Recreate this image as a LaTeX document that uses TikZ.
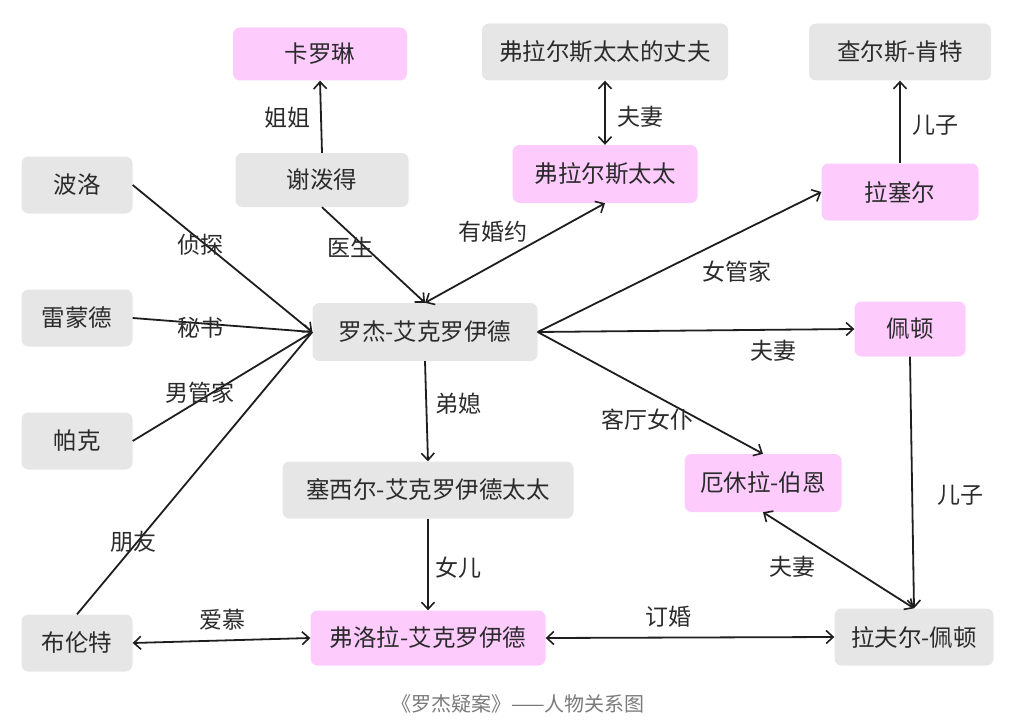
\documentclass[tikz,border=0pt]{standalone}
\usepackage{fontspec}
\setmainfont{Noto Sans CJK SC}
\usetikzlibrary{arrows.meta,calc}
\definecolor{boxgray}{HTML}{E6E6E6}
\definecolor{boxpink}{HTML}{FDCCFD}
\definecolor{txt}{HTML}{2B2B2B}
\definecolor{edge}{HTML}{1E1E1E}
\definecolor{captxt}{HTML}{7A7A7A}
\tikzset{
  base/.style={rounded corners=7pt, draw=none, text=txt, font=\fontsize{23.5}{26}\selectfont, inner sep=0pt},
  graybox/.style={base, fill=boxgray},
  pinkbox/.style={base, fill=boxpink},
  lbl/.style={text=txt, font=\fontsize{23}{26}\selectfont, inner sep=0pt},
  rel/.style={draw=edge, line width=1.8pt, -{Straight Barb[length=7pt,width=13pt,line width=1.6pt]}},
  relb/.style={draw=edge, line width=1.8pt, {Straight Barb[length=7pt,width=13pt,line width=1.6pt]}-{Straight Barb[length=7pt,width=13pt,line width=1.6pt]}},
  plain/.style={draw=edge, line width=1.8pt}
}
\begin{document}
\begin{tikzpicture}[x=1pt,y=-1pt]
\useasboundingbox (0,0) rectangle (1013,725);
% nodes
\node[pinkbox, minimum width=174pt, minimum height=53pt] (kl) at (320,54) {卡罗琳};
\node[graybox, minimum width=173pt, minimum height=54pt] (xp) at (322,180) {谢泼得};
\node[graybox, minimum width=111pt, minimum height=57pt] (bl) at (77,185) {波洛};
\node[graybox, minimum width=111pt, minimum height=57pt] (lm) at (77,318) {雷蒙德};
\node[graybox, minimum width=111pt, minimum height=57pt] (pk) at (77,441) {帕克};
\node[graybox, minimum width=111pt, minimum height=57pt] (bt) at (77,643) {布伦特};
\node[graybox, minimum width=225pt, minimum height=58pt] (rj) at (425,332) {罗杰-艾克罗伊德};
\node[graybox, minimum width=246pt, minimum height=57pt] (fh) at (605,52) {弗拉尔斯太太的丈夫};
\node[pinkbox, minimum width=185pt, minimum height=58pt] (fl) at (605,174) {弗拉尔斯太太};
\node[graybox, minimum width=182pt, minimum height=57pt] (ck) at (900,52) {查尔斯-肯特};
\node[pinkbox, minimum width=157pt, minimum height=57pt] (ls) at (900,192) {拉塞尔};
\node[pinkbox, minimum width=111pt, minimum height=55pt] (pd) at (910,329) {佩顿};
\node[graybox, minimum width=291pt, minimum height=57pt] (sx) at (428,490) {塞西尔-艾克罗伊德太太};
\node[pinkbox, minimum width=235pt, minimum height=55pt] (fr) at (428,638) {弗洛拉-艾克罗伊德};
\node[pinkbox, minimum width=157pt, minimum height=58pt] (eh) at (763,483) {厄休拉-伯恩};
\node[graybox, minimum width=159pt, minimum height=57pt] (lf) at (914,637) {拉夫尔-佩顿};
% edges
\draw[rel] (xp.north) -- (kl.south);
\draw[rel] (xp.south) -- (rj.north);
\draw[rel] (bl.east) -- (rj.west);
\draw[rel] (lm.east) -- (rj.west);
\draw[plain] (pk.east) -- (rj.west);
\draw[plain] (bt.north) -- (rj.west);
\draw[relb] (fl.south) -- (rj.north);
\draw[relb] (fh.south) -- (fl.north);
\draw[rel] (rj.east) -- (ls.west);
\draw[rel] (rj.east) -- (pd.west);
\draw[rel] (rj.east) -- (eh.north);
\draw[rel] (rj.south) -- (sx.north);
\draw[rel] (sx.south) -- (fr.north);
\draw[rel] (ls.north) -- (ck.south);
\draw[rel] (pd.south) -- (lf.north);
\draw[relb] (eh.south) -- (lf.north);
\draw[relb] (fr.east) -- (lf.west);
\draw[relb] (bt.east) -- (fr.west);
% labels
\node[lbl] (l1) at (287,118) {姐姐};
\node[lbl] (l2) at (350,247) {医生};
\node[lbl] (l3) at (200,245) {侦探};
\node[lbl] (l4) at (200,328) {秘书};
\node[lbl] (l5) at (200,393) {男管家};
\node[lbl] (l6) at (133,542) {朋友};
\node[lbl] (l7) at (493,232) {有婚约};
\node[lbl] (l8) at (640,117) {夫妻};
\node[lbl] (l9) at (737,272) {女管家};
\node[lbl] (l10) at (773,351) {夫妻};
\node[lbl] (l11) at (647,420) {客厅女仆};
\node[lbl] (l12) at (458,404) {弟媳};
\node[lbl] (l13) at (458,568) {女儿};
\node[lbl] (l14) at (935,125) {儿子};
\node[lbl] (l15) at (960,495) {儿子};
\node[lbl] (l16) at (792,567) {夫妻};
\node[lbl] (l17) at (668,617) {订婚};
\node[lbl] (l18) at (222,620) {爱慕};
\node[text=captxt, font=\fontsize{20}{22}\selectfont, inner sep=0pt] (cap) at (518,704) {《罗杰疑案》——人物关系图};
\end{tikzpicture}
\end{document}
